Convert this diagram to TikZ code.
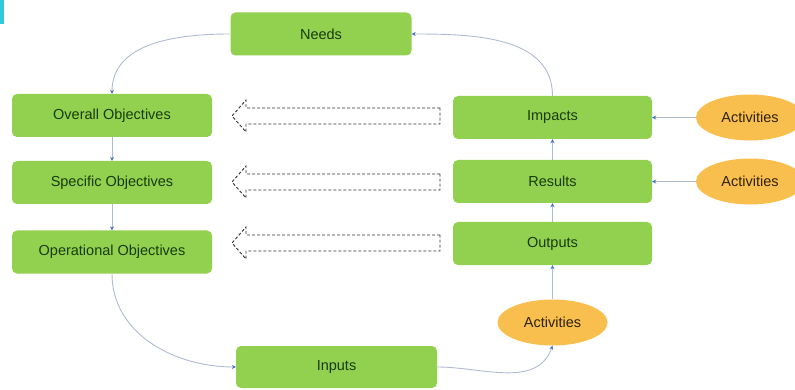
\documentclass[tikz,border=0pt]{standalone}
\usepackage{fontspec}
\setmainfont{Liberation Sans}
\usetikzlibrary{arrows.meta,shapes.geometric}
\definecolor{boxgreen}{HTML}{92D050}
\definecolor{boxtext}{HTML}{173D0C}
\definecolor{actfill}{HTML}{F8BF4E}
\definecolor{acttext}{HTML}{2E2206}
\definecolor{linkgray}{HTML}{B0BAD0}
\definecolor{tipblue}{HTML}{4472C4}
\definecolor{markcyan}{HTML}{33C9D9}
\tikzset{
  stage/.style={draw=none, fill=boxgreen, rounded corners=5pt,
    minimum width=200pt, minimum height=43pt, text=boxtext,
    font=\fontsize{14.5}{17}\selectfont},
  activity/.style={ellipse, draw=none, fill=actfill, text=acttext,
    minimum width=108pt, minimum height=46pt, inner sep=0pt,
    font=\fontsize{14.5}{17}\selectfont},
  link/.style={draw=linkgray, line width=0.9pt,
    -{Stealth[length=4pt,width=4pt,color=tipblue]}},
  hollowarrow/.style={draw=black!80, dash pattern=on 3pt off 2pt,
    line width=0.9pt}
}
\begin{document}
\begin{tikzpicture}[x=1pt,y=-1pt]
  \useasboundingbox (0,0) rectangle (795,390);
  % small marker at the top left corner
  \fill[markcyan] (0,0) rectangle (4,24);

  % objectives column
  \node[stage, minimum width=181pt] (needs) at (321,34) {Needs};
  \node[stage] (overall) at (112,115.5) {Overall Objectives};
  \node[stage] (specific) at (112,182.5) {Specific Objectives};
  \node[stage] (operational) at (112,252) {Operational Objectives};
  \node[stage, minimum width=201pt, minimum height=42pt] (inputs) at (336.5,367) {Inputs};

  % results column
  \node[stage, minimum width=199pt] (impacts) at (552.5,117.5) {Impacts};
  \node[stage, minimum width=199pt] (results) at (552.5,181.5) {Results};
  \node[stage, minimum width=199pt] (outputs) at (552.5,243.5) {Outputs};

  % activities
  \node[activity] (actA) at (750,117.5) {Activities};
  \node[activity] (actB) at (750,181.5) {Activities};
  \node[activity, minimum width=110pt] (actC) at (552.5,322.5) {Activities};

  % hollow dashed arrows pointing back to the objectives
  \foreach \yc in {116,182,243}{
    \draw[hollowarrow] (440,\yc-8) -- (246,\yc-8) -- (246,\yc-16) -- (232,\yc)
      -- (246,\yc+16) -- (246,\yc+8) -- (440,\yc+8) -- cycle;
  }

  % connectors
  \draw[link] (needs.west) to[out=180,in=90] (overall.north);
  \draw[link] (overall.south) -- (specific.north);
  \draw[link] (specific.south) -- (operational.north);
  \draw[link] (operational.south) to[out=-90,in=180] (inputs.west);
  \draw[link] (inputs.east) to[out=0,in=-110] (actC.south);
  \draw[link] (actC.north) -- (outputs.south);
  \draw[link] (outputs.north) -- (results.south);
  \draw[link] (results.north) -- (impacts.south);
  \draw[link] (impacts.north) to[out=90,in=0] (needs.east);
  \draw[link] (actA.west) -- (impacts.east);
  \draw[link] (actB.west) -- (results.east);
\end{tikzpicture}
\end{document}
